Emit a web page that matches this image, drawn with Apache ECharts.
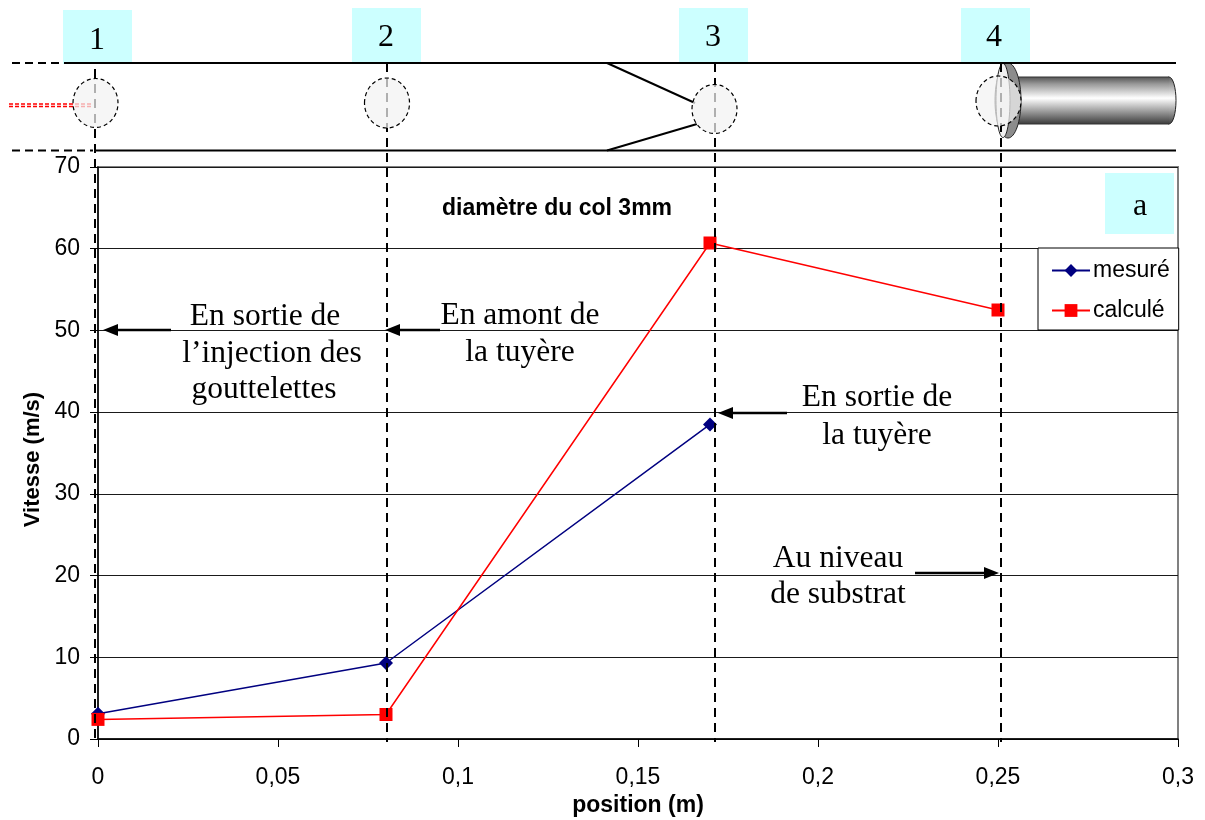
<!DOCTYPE html>
<html><head><meta charset="utf-8">
<style>html,body{margin:0;padding:0;background:#fff}#c{width:1205px;height:820px}</style>
<script src="https://cdn.jsdelivr.net/npm/echarts@6/dist/echarts.min.js"></script>
</head><body><div id="c"></div>
<script>
const positions = [0, 0.08, 0.17, 0.25];
const mesure = [3.1, 9.3, 38.5];
const calcule = [2.4, 3.0, 60.7, 52.5];
const SANS = '"Liberation Sans", Arial, sans-serif';
const SERIF = '"Liberation Serif", "Times New Roman", serif';
const CYAN = '#ccffff';

const g = [];
function rect(x, y, w, h, fill, z) { g.push({type:'rect', shape:{x,y,width:w,height:h}, style:{fill}, z:z||1, silent:true}); }
function line(x1, y1, x2, y2, w, dash, color, z) {
  g.push({type:'line', shape:{x1,y1,x2,y2}, style:{stroke:color||'#000', lineWidth:w, lineDash:dash||null}, z:z||20, silent:true});
}
function ell(cx, cy, rx, ry) {
  g.push({type:'ellipse', shape:{cx,cy,rx,ry}, style:{fill:'rgba(243,243,243,0.72)', stroke:'#000', lineWidth:1.2, lineDash:[4,3]}, z:22, silent:true});
}
function txt(text, x, y, size, font, weight, z) {
  g.push({type:'text', x, y, style:{text, fill:'#000', font:(weight||'normal')+' '+size+'px '+font, textAlign:'center', textVerticalAlign:'middle'}, z:z||30, silent:true});
}
function arrow(x1, y, x2) {
  const d = x2 > x1 ? 1 : -1;
  line(x1, y, x2 - d*12, y, 2.4, null, '#000', 25);
  g.push({type:'polygon', shape:{points:[[x2,y],[x2-d*15,y-6],[x2-d*15,y+6]]}, style:{fill:'#000'}, z:25, silent:true});
}
const cylGrad = {type:'linear',x:0,y:0,x2:0,y2:1,colorStops:[
    {offset:0,color:'#555555'},{offset:0.15,color:'#999999'},{offset:0.45,color:'#ffffff'},{offset:1,color:'#3c3c3c'}]};

// Cylinder and flange (schematic)
g.push({type:'ellipse', shape:{cx:1169,cy:100.5,rx:7,ry:23.5}, z:4, silent:true, style:{stroke:'#222',lineWidth:1,fill:cylGrad}});
g.push({type:'rect', shape:{x:1018,y:77,width:151,height:47}, z:4, silent:true, style:{fill:cylGrad}});
line(1018, 77, 1169, 77, 1, null, '#333', 4);
line(1018, 124, 1169, 124, 1, null, '#333', 4);
g.push({type:'ellipse', shape:{cx:1008,cy:100.5,rx:13,ry:37.5}, z:4, silent:true, style:{fill:'#8c8c8c',stroke:'#222',lineWidth:1}});
g.push({type:'ellipse', shape:{cx:1003,cy:100.5,rx:7,ry:37}, z:4, silent:true, style:{fill:'#f0f0f0',stroke:'#222',lineWidth:1}});

// Duct lines
line(12, 63, 64, 63, 2, [8,5]);
line(64, 63, 1176, 63, 2);
line(12, 150.5, 93, 150.5, 2, [8,5]);
line(95, 150.5, 1176, 150.5, 2);
line(607, 63, 695, 103, 2);
line(607, 150.5, 697, 124, 2);
// Injection
line(9, 104, 92, 104, 1.3, [4,2], '#f00');
line(9, 106.5, 92, 106.5, 1.3, [4,2], '#f00');
// Section lines
[[95, 69], [387, 63], [715, 63], [1001, 63]].forEach(([x, y0]) => line(x, y0, x, 742, 2, [9,6], '#000', 20));
// Droplet clouds
ell(95.5, 103, 22.5, 24.5);
ell(387, 103, 22.5, 25);
ell(714.5, 109, 22.5, 24.5);
ell(998.5, 101, 22.5, 25);
// Number cells
rect(63, 10, 69, 54, CYAN, 10);
rect(352, 8, 69, 54, CYAN, 10);
rect(679, 8, 69, 54, CYAN, 10);
rect(961, 8, 69, 54, CYAN, 10);
rect(1105, 173, 69, 61, CYAN, 10);
txt('1', 97, 41, 32, SERIF);
txt('2', 386, 38, 32, SERIF);
txt('3', 713, 38, 32, SERIF);
txt('4', 994, 38, 32, SERIF);
txt('a', 1140, 207, 32, SERIF);
// Annotations
txt('diamètre du col 3mm', 557, 209, 23, SANS, 'bold');
txt('En sortie de', 265, 317, 31.5, SERIF);
txt('l\u2019injection des', 272, 354, 31.5, SERIF);
txt('gouttelettes', 264, 390, 31.5, SERIF);
txt('En amont de', 520, 316, 31.5, SERIF);
txt('la tuyère', 520, 353, 31.5, SERIF);
txt('En sortie de', 877, 398, 31.5, SERIF);
txt('la tuyère', 877, 436, 31.5, SERIF);
txt('Au niveau', 838, 559, 31.5, SERIF);
txt('de substrat', 838, 595, 31.5, SERIF);
arrow(171, 330, 103);
arrow(440, 330, 385);
arrow(787, 413, 718);
arrow(915, 573, 999);

const chart = echarts.init(document.getElementById('c'), null, {renderer:'canvas'});
chart.setOption({
  animation:false,
  backgroundColor:'#fff',
  grid:{left:98, right:27, top:167, bottom:81, outerBoundsMode:'none', show:true, borderColor:'#808080', borderWidth:2, backgroundColor:'transparent'},
  legend:{
    orient:'vertical', left:1038, top:248, z:15,
    backgroundColor:'#fff', borderColor:'#000', borderWidth:1,
    padding:[11,9,8,13], itemGap:17, itemWidth:38, itemHeight:16,
    textStyle:{fontFamily:SANS, fontSize:23, color:'#000', padding:[0,0,0,-2]},
    data:['mesuré','calculé']
  },
  xAxis:{
    type:'value', min:0, max:0.3, interval:0.05,
    name:'position (m)', nameLocation:'middle', nameGap:55,
    nameTextStyle:{fontFamily:SANS, fontSize:23, fontWeight:'bold', color:'#000'},
    axisLine:{show:true, onZero:false, lineStyle:{color:'#000', width:1.5}},
    axisTick:{show:true, length:8, lineStyle:{color:'#000', width:1}},
    axisLabel:{fontFamily:SANS, fontSize:23, color:'#000', margin:27, hideOverlap:false, formatter:v=>String(v).replace('.',',')},
    splitLine:{show:false}
  },
  yAxis:{
    type:'value', min:0, max:70, interval:10,
    name:'Vitesse (m/s)', nameLocation:'middle', nameGap:54,
    nameTextStyle:{fontFamily:SANS, fontSize:22, fontWeight:'bold', color:'#000', padding:[0,13,0,0]},
    axisLine:{show:true, onZero:false, lineStyle:{color:'#000', width:1.5}},
    axisTick:{show:true, length:8, lineStyle:{color:'#000', width:1}},
    axisLabel:{fontFamily:SANS, fontSize:23, color:'#000', margin:18, padding:[4,0,0,0]},
    splitLine:{show:true, lineStyle:{color:'#1a1a1a', width:1}}
  },
  series:[
    {name:'mesuré', type:'line', clip:false, z:3, symbol:'diamond', symbolSize:14,
     data:mesure.map((v,i)=>[positions[i],v]),
     lineStyle:{color:'#000080', width:1.5}, itemStyle:{color:'#000080'}},
    {name:'calculé', type:'line', clip:false, z:4, symbol:'rect', symbolSize:13,
     data:calcule.map((v,i)=>[positions[i],v]),
     lineStyle:{color:'#ff0000', width:1.5}, itemStyle:{color:'#ff0000'}}
  ],
  graphic:{elements:g}
});
</script></body></html>
